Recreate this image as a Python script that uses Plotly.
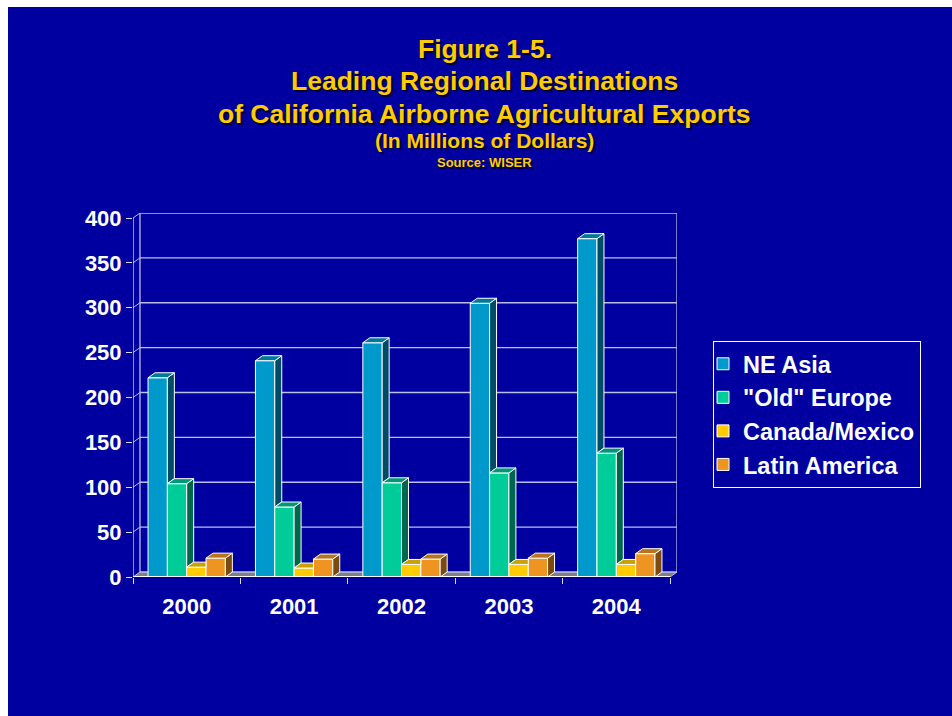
import plotly.graph_objects as go

# ---------------- data ----------------
years = ["2000", "2001", "2002", "2003", "2004"]
series_names = ["NE Asia", "\"Old\" Europe", "Canada/Mexico", "Latin America"]
ne_asia = [222, 241, 261, 305, 377]
old_europe = [104, 78, 105, 116, 138]
canada_mexico = [11, 10, 14, 14, 14]
latin_america = [21, 20, 20, 21, 26]
y_ticks = [0, 50, 100, 150, 200, 250, 300, 350, 400]

series_values = [ne_asia, old_europe, canada_mexico, latin_america]

# ---------------- style ----------------
W, H = 952, 716
BG = "#0000A0"
front_cols = ["#0099CC", "#00CC99", "#FFCC00", "#EE9420"]
top_cols = ["#007A99", "#009977", "#C9A200", "#B8731C"]
side_cols = ["#004C66", "#00664C", "#7F6600", "#7A4A0E"]
GRID = "rgb(190,190,235)"
FONT = "Liberation Sans, Arial, sans-serif"

DX = 0.065   # depth offset (x units)
DY = 5.57    # depth offset (y units)
BW = 0.18    # bar width
OFF0 = -0.36


def fx(p):
    return p / W


def fy(p):
    return 1 - p / H


fig = go.Figure()
xpos = list(range(len(years)))

# front faces: real bar traces
for s, (name, vals) in enumerate(zip(series_names, series_values)):
    fig.add_trace(go.Bar(
        x=xpos, y=vals, name=name,
        offset=OFF0 + s * BW, width=BW,
        marker=dict(color=front_cols[s], line=dict(color="white", width=1)),
        hoverinfo="name+y",
    ))

# 3D faces (tops and sides) derived from the data
for s, vals in enumerate(series_values):
    sx, sy, tx, ty = [], [], [], []
    for i, v in enumerate(vals):
        xl = i + OFF0 + s * BW
        xr = xl + BW
        w = series_values[s + 1][i] if s < len(series_values) - 1 else 0
        if w < v:
            sx += [xr, xr + DX, xr + DX, xr, xr, None]
            sy += [w, w + DY, v + DY, v, w, None]
            tx += [xl, xr, xr + DX, xl + DX, xl, None]
            ty += [v, v, v + DY, v + DY, v, None]
        else:
            tx += [xl, xr, xr, xl + DX, xl, None]
            ty += [v, v, v + DY, v + DY, v, None]
    fig.add_trace(go.Scatter(x=sx, y=sy, mode="lines", fill="toself",
                             fillcolor=side_cols[s], line=dict(color="white", width=1),
                             showlegend=False, hoverinfo="skip"))
    fig.add_trace(go.Scatter(x=tx, y=ty, mode="lines", fill="toself",
                             fillcolor=top_cols[s], line=dict(color="white", width=1),
                             showlegend=False, hoverinfo="skip"))

n = len(years)
x0, x1 = -0.5, n - 0.5
shapes = []
# slide background
shapes.append(dict(type="rect", xref="paper", yref="paper", x0=fx(8), x1=1.01, y0=-0.01, y1=fy(7),
                   fillcolor=BG, line=dict(width=0), layer="below"))
# floor
shapes.append(dict(type="path", xref="x", yref="y", layer="below",
                   path=f"M{x0},0 L{x1},0 L{x1 + DX},{DY} L{x0 + DX},{DY} Z",
                   fillcolor="#808080", line=dict(width=0)))
# back wall gridlines and left wall lines
for t in y_ticks:
    shapes.append(dict(type="line", xref="x", yref="y", layer="below",
                       x0=x0 + DX, x1=x1 + DX, y0=t + DY, y1=t + DY,
                       line=dict(color=GRID, width=1.3)))
    shapes.append(dict(type="line", xref="x", yref="y", layer="below",
                       x0=x0, x1=x0 + DX, y0=t, y1=t + DY,
                       line=dict(color=GRID, width=1)))
top = y_ticks[-1]
for xx in (x0 + DX, x1 + DX):
    shapes.append(dict(type="line", xref="x", yref="y", layer="below",
                       x0=xx, x1=xx, y0=DY, y1=top + DY, line=dict(color=GRID, width=1.3)))
shapes.append(dict(type="line", xref="x", yref="y", layer="below",
                   x0=x1, x1=x1 + DX, y0=0, y1=DY, line=dict(color=GRID, width=1)))
# front edges
shapes.append(dict(type="line", xref="x", yref="y", layer="above",
                   x0=x0, x1=x0, y0=0, y1=top, line=dict(color="#dcdcf5", width=1.3)))
shapes.append(dict(type="line", xref="x", yref="y", layer="above",
                   x0=x0, x1=x1, y0=0, y1=0, line=dict(color="white", width=2)))

# titles
title_lines = [
    ("Figure 1-5.", 26.5, 49),
    ("Leading Regional Destinations", 26.5, 81),
    ("of California Airborne Agricultural Exports", 26.5, 114),
    ("(In Millions of Dollars)", 21, 141),
    ("Source: WISER", 13, 162),
]
annotations = []
for txt, size, yc in title_lines:
    annotations.append(dict(text=f"<b>{txt}</b>", xref="paper", yref="paper",
                            x=fx(485), y=fy(yc), xanchor="center", yanchor="middle",
                            showarrow=False,
                            font=dict(family=FONT, size=size, color="#FFCC00",
                                      shadow="2px 2px 1px #000030")))

fig.update_layout(
    width=W, height=H,
    margin=dict(l=0, r=0, t=0, b=0, pad=0, autoexpand=False),
    paper_bgcolor="white",
    plot_bgcolor="rgba(0,0,0,0)",
    barmode="overlay",
    shapes=shapes,
    annotations=annotations,
    xaxis=dict(domain=[fx(133), fx(677)], range=[x0, x1 + DX], automargin=False,
               tickmode="array", tickvals=xpos, ticktext=[f"<b>{y}</b>" for y in years],
               ticks="", showgrid=False, zeroline=False, showline=False,
               tickfont=dict(family=FONT, size=22, color="white"),
               ticklabelstandoff=14,
               minor=dict(tickmode="array", tickvals=[k - 0.5 for k in range(n + 1)],
                          ticks="outside", ticklen=6, tickcolor="#dcdcf5", tickwidth=1,
                          showgrid=False),
               fixedrange=True),
    yaxis=dict(domain=[fy(577), fy(577 - (top + DY) * (359 / 400))], range=[0, top + DY],
               automargin=False,
               tickmode="array", tickvals=y_ticks, ticktext=[f"<b>{t}</b>" for t in y_ticks],
               ticks="outside", ticklen=6, tickcolor="#dcdcf5", tickwidth=1,
               showgrid=False, zeroline=False, showline=False,
               tickfont=dict(family=FONT, size=22, color="white"),
               fixedrange=True),
    legend=dict(x=fx(713), y=fy(341), xanchor="left", yanchor="top",
                bgcolor=BG, bordercolor="white", borderwidth=1,
                font=dict(family=FONT, size=23.5, color="white", weight="bold"),
                indentation=-11, tracegroupgap=0),
    showlegend=True,
)

fig.write_html("out.html")
